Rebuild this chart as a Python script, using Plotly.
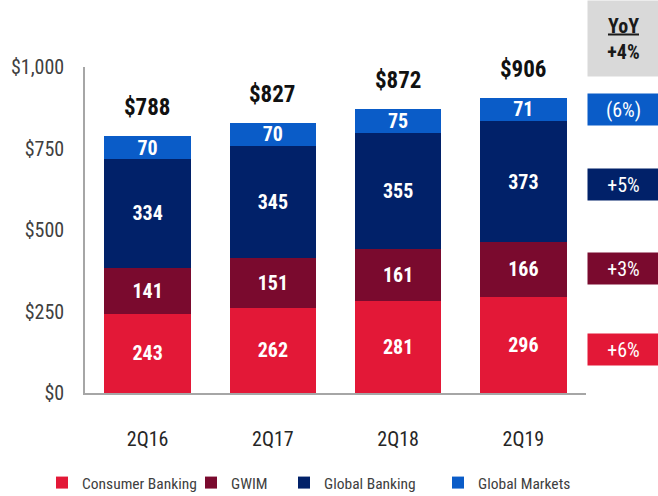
import plotly.graph_objects as go

categories = ["2Q16", "2Q17", "2Q18", "2Q19"]
consumer_banking = [243, 262, 281, 296]
gwim = [141, 151, 161, 166]
global_banking = [334, 345, 355, 373]
global_markets = [70, 70, 75, 71]
totals = [788, 827, 872, 906]
total_labels = ["$788", "$827", "$872", "$906"]

yoy_labels = ["(6%)", "+5%", "+3%", "+6%"]
yoy_header = "<u>YoY</u><br>+4%"

y_tickvals = [0, 250, 500, 750, 1000]
y_ticktext = ["$0", "$250", "$500", "$750", "$1,000"]

C_CB = "#E31837"
C_GWIM = "#7A0A2E"
C_GB = "#012169"
C_GM = "#0A5CC8"

FONT = "Roboto Condensed, Liberation Sans Narrow, sans-serif"
W, H = 658, 496

fig = go.Figure()
series = [
    ("Consumer Banking", consumer_banking, C_CB, "legend"),
    ("GWIM", gwim, C_GWIM, "legend2"),
    ("Global Banking", global_banking, C_GB, "legend3"),
    ("Global Markets", global_markets, C_GM, "legend4"),
]
for name, vals, col, lg in series:
    fig.add_trace(go.Bar(
        x=categories, y=vals, name=name, legend=lg,
        marker=dict(color=col, line=dict(width=0)),
        text=[str(v) for v in vals],
        textposition="inside", insidetextanchor="middle", textangle=0,
        textfont=dict(color="white", size=20, family=FONT),
        texttemplate="<b>%{text}</b>",
        hoverinfo="skip",
    ))

annotations = []
for c, t, lab in zip(categories, totals, total_labels):
    annotations.append(dict(
        x=c, y=t, xref="x", yref="y", text="<b>" + lab + "</b>",
        showarrow=False, yanchor="bottom", yshift=13,
        font=dict(size=23, color="#111111", family=FONT),
    ))

# YoY boxes (positions in paper coords relative to plot area)
plot_top, plot_bot = 67, 393
def py(p):
    return (plot_bot - p) / (plot_bot - plot_top)

annotations.append(dict(
    x=1.0, xref="paper", xanchor="left", xshift=1, y=py(0), yref="paper", yanchor="top",
    text="<b>" + yoy_header + "</b>", showarrow=False, align="center",
    bgcolor="#D9D9D9", width=71, height=75, borderpad=0,
    font=dict(size=20, color="#1a1a1a", family=FONT),
))
box_centers = [109, 184, 268, 349]
box_colors = [C_GM, C_GB, C_GWIM, C_CB]
for lab, cy, col in zip(yoy_labels, box_centers, box_colors):
    annotations.append(dict(
        x=1.0, xref="paper", xanchor="left", xshift=1, y=py(cy), yref="paper", yanchor="middle",
        text=lab, showarrow=False, align="center",
        bgcolor=col, width=71, height=31, borderpad=0,
        font=dict(size=20, color="white", family=FONT),
    ))

def legend_at(px):
    return dict(
        orientation="h", xref="container", yref="container",
        x=px / W, xanchor="left", y=(H - 483) / H, yanchor="middle",
        font=dict(size=15.5, color="#404040", family=FONT),
        itemwidth=30, itemclick=False, bgcolor="rgba(0,0,0,0)",
    )

fig.update_layout(
    barmode="stack",
    bargap=0.31,
    width=W, height=H,
    margin=dict(l=85, r=72, t=67, b=103, autoexpand=False),
    paper_bgcolor="white", plot_bgcolor="white",
    font=dict(family=FONT, color="#404040"),
    showlegend=True,
    legend=legend_at(42),
    legend2=legend_at(191),
    legend3=legend_at(284),
    legend4=legend_at(438),
    annotations=annotations,
    uniformtext=dict(minsize=20, mode="show"),
)
fig.update_yaxes(
    range=[0, 1000], tickvals=y_tickvals, ticktext=y_ticktext, automargin=False,
    showgrid=False, zeroline=False, showline=True, linecolor="#A6A6A6", linewidth=1.5,
    ticks="", ticklabelstandoff=15,
    tickfont=dict(size=20, color="#404040", family=FONT),
)
fig.update_xaxes(
    showgrid=False, showline=True, linecolor="#A6A6A6", linewidth=1.5, automargin=False,
    ticks="", tickfont=dict(size=20, color="#262626", family=FONT),
    ticklabelstandoff=27,
)

fig.write_html("out.html", config={"displayModeBar": False},
               post_script="document.body.style.margin='0';document.body.style.padding='0';")
